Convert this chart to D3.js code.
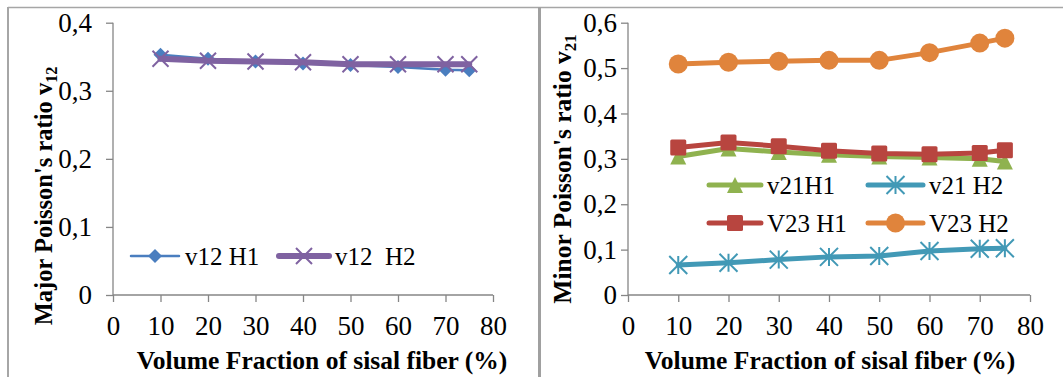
<!DOCTYPE html>
<html>
<head>
<meta charset="utf-8">
<script src="https://cdn.jsdelivr.net/npm/d3@7"></script>
<style>
  body { margin: 0; background: #fff; }
  svg { display: block; }
  text { font-family: "Liberation Serif", "Times New Roman", serif; fill: #000; }
</style>
</head>
<body>
<div class="chart"></div>
<script>
// Poisson's ratio vs sisal fibre volume fraction, two panels
var svgWidth = 1063;
var svgHeight = 377;

// data
var fractions = [10, 20, 30, 40, 50, 60, 70, 75];
var v12H1 = [0.353, 0.347, 0.343, 0.340, 0.338, 0.335, 0.331, 0.330];
var v12H2 = [0.347, 0.344, 0.343, 0.342, 0.339, 0.339, 0.339, 0.339];
var v21H1 = [0.305, 0.323, 0.315, 0.309, 0.305, 0.303, 0.300, 0.294];
var v21H2 = [0.066, 0.071, 0.078, 0.084, 0.086, 0.097, 0.102, 0.103];
var v23H1 = [0.325, 0.336, 0.328, 0.318, 0.312, 0.310, 0.313, 0.319];
var v23H2 = [0.509, 0.513, 0.515, 0.517, 0.517, 0.534, 0.555, 0.566];

var xTicks = [0, 10, 20, 30, 40, 50, 60, 70, 80];
var leftYTicks = [0, 0.1, 0.2, 0.3, 0.4];
var rightYTicks = [0, 0.1, 0.2, 0.3, 0.4, 0.5, 0.6];
var xTitle = "Volume Fraction of sisal fiber (%)";

var svg = d3.select(".chart")
  .append("svg")
  .attr("width", svgWidth)
  .attr("height", svgHeight);

// frame lines of the two pasted charts
svg.append("line").attr("x1", 8).attr("x2", svgWidth).attr("y1", 7.5).attr("y2", 7.5)
  .attr("stroke", "#a6a6a6").attr("stroke-width", 1.5);
svg.append("line").attr("x1", 8).attr("x2", 8).attr("y1", 7).attr("y2", svgHeight)
  .attr("stroke", "#a6a6a6").attr("stroke-width", 2);
svg.append("line").attr("x1", 539.5).attr("x2", 539.5).attr("y1", 7).attr("y2", svgHeight)
  .attr("stroke", "#a0a0a0").attr("stroke-width", 3);

function fmt(d) {
  return d === 0 ? "0" : d.toFixed(1).replace(".", ",");
}

// marker painters
function drawMarker(g, type, color, size) {
  var h = size / 2;
  if (type == "diamond") {
    g.append("path").attr("d", "M0," + (-h) + "L" + h + ",0L0," + h + "L" + (-h) + ",0Z")
      .attr("fill", color);
  } else if (type == "cross") {
    g.append("path").attr("d", "M" + (-h) + "," + (-h) + "L" + h + "," + h + "M" + (-h) + "," + h + "L" + h + "," + (-h))
      .attr("stroke", color).attr("stroke-width", 2).attr("fill", "none");
  } else if (type == "star") {
    g.append("path").attr("d", "M" + (-h) + "," + (-h) + "L" + h + "," + h + "M" + (-h) + "," + h + "L" + h + "," + (-h) + "M0," + (-h) + "L0," + h)
      .attr("stroke", color).attr("stroke-width", 2).attr("fill", "none");
  } else if (type == "triangle") {
    g.append("path").attr("d", "M0," + (-h) + "L" + h + "," + h + "L" + (-h) + "," + h + "Z")
      .attr("fill", color);
  } else if (type == "square") {
    g.append("rect").attr("x", -h).attr("y", -h).attr("width", size).attr("height", size)
      .attr("rx", 1.5).attr("fill", color);
  } else if (type == "circle") {
    g.append("circle").attr("r", h).attr("fill", color);
  }
}

function drawChart(opt) {
  var x = d3.scaleLinear().domain([0, 80]).range([opt.left, opt.right]);
  var y = d3.scaleLinear().domain([0, opt.yMax]).range([opt.bottom, opt.top]);
  var chart = svg.append("g");

  var xAxis = d3.axisBottom(x).tickValues(xTicks).tickSize(7).tickFormat(d3.format("d"));
  var yAxis = d3.axisLeft(y).tickValues(opt.yTicks).tickSize(7).tickFormat(fmt);

  var gx = chart.append("g")
    .attr("transform", "translate(0," + opt.bottom + ")")
    .call(xAxis);
  var gy = chart.append("g")
    .attr("transform", "translate(" + opt.left + ",0)")
    .call(yAxis);

  [gx, gy].forEach(function(g) {
    g.attr("font-size", null).attr("font-family", null);
    g.selectAll("path, line").attr("stroke", "#868686").attr("stroke-width", 1.3);
    g.selectAll("text").style("font-size", "27px").attr("fill", "#000");
  });
  gx.select(".domain").attr("d", "M" + opt.left + ",0H" + opt.right);
  gy.select(".domain").attr("d", "M0," + opt.bottom + "V" + opt.top);
  gx.selectAll("text").attr("y", 21);
  gy.selectAll("text").attr("x", -opt.labelGap);

  // series
  opt.series.forEach(function(s) {
    var pts = fractions.map(function(f, i) { return [x(f), y(s.values[i])]; });
    chart.append("path")
      .attr("d", d3.line()(pts))
      .attr("fill", "none")
      .attr("stroke", s.color)
      .attr("stroke-width", s.width)
      .attr("stroke-linejoin", "round")
      .attr("stroke-linecap", "round");
    pts.forEach(function(p) {
      var m = chart.append("g").attr("transform", "translate(" + p[0] + "," + p[1] + ")");
      drawMarker(m, s.marker, s.color, s.size);
    });
  });

  // legend
  opt.series.forEach(function(s) {
    var lg = chart.append("g").attr("transform", "translate(" + s.lx + "," + s.ly + ")");
    lg.append("line").attr("x1", 0).attr("x2", s.lw).attr("y1", 0).attr("y2", 0)
      .attr("stroke", s.color).attr("stroke-width", s.width).attr("stroke-linecap", "round");
    drawMarker(lg.append("g").attr("transform", "translate(" + (s.lw / 2) + ",0)"), s.marker, s.color, s.size);
    lg.append("text").attr("x", s.lw + 6).attr("y", 0).attr("dy", "0.35em")
      .style("font-size", "25px").attr("xml:space", "preserve").text(s.name);
  });

  // axis titles
  chart.append("text")
    .attr("x", (opt.left + opt.right) / 2 + opt.xTitleShift)
    .attr("y", 360).attr("dy", "0.35em")
    .attr("text-anchor", "middle")
    .style("font-weight", "bold").style("font-size", "25.5px")
    .text(xTitle);

  var yt = chart.append("text")
    .attr("transform", "translate(" + opt.yTitleX + "," + opt.yTitleY + ") rotate(-90)")
    .attr("dy", "0.35em")
    .attr("text-anchor", "middle")
    .style("font-weight", "bold").style("font-size", opt.yTitleSize + "px");
  yt.append("tspan").text(opt.yTitle + " v");
  yt.append("tspan").style("font-size", (opt.yTitleSize * 0.66) + "px").attr("dy", "0.3em").text(opt.ySub);
}

drawChart({
  left: 113, right: 493, top: 22.7, bottom: 295,
  yMax: 0.4, yTicks: leftYTicks, labelGap: 21,
  xTitleShift: 19, yTitleX: 43.5, yTitleY: 196, yTitleSize: 24.5,
  yTitle: "Major Poisson's ratio", ySub: "12",
  series: [
    { name: "v12 H1", values: v12H1, color: "#4a7ebf", width: 2.5, marker: "diamond", size: 14, lx: 131, ly: 256, lw: 48 },
    { name: "v12  H2", values: v12H2, color: "#7f62a1", width: 6, marker: "cross", size: 16, lx: 279, ly: 256, lw: 50 }
  ]
});

drawChart({
  left: 628, right: 1030, top: 22.7, bottom: 295,
  yMax: 0.6, yTicks: rightYTicks, labelGap: 11,
  xTitleShift: 1, yTitleX: 562, yTitleY: 169, yTitleSize: 25.5,
  yTitle: "Minor Poisson's ratio", ySub: "21",
  series: [
    { name: "v21H1", values: v21H1, color: "#8fb24f", width: 5, marker: "triangle", size: 16, lx: 709, ly: 185, lw: 52 },
    { name: "v21 H2", values: v21H2, color: "#4299b6", width: 5, marker: "star", size: 18, lx: 868, ly: 185, lw: 55 },
    { name: "V23 H1", values: v23H1, color: "#b8453f", width: 5, marker: "square", size: 16, lx: 709, ly: 223, lw: 52 },
    { name: "V23 H2", values: v23H2, color: "#e0843c", width: 5, marker: "circle", size: 19, lx: 868, ly: 223, lw: 55 }
  ]
});
</script>
</body>
</html>
